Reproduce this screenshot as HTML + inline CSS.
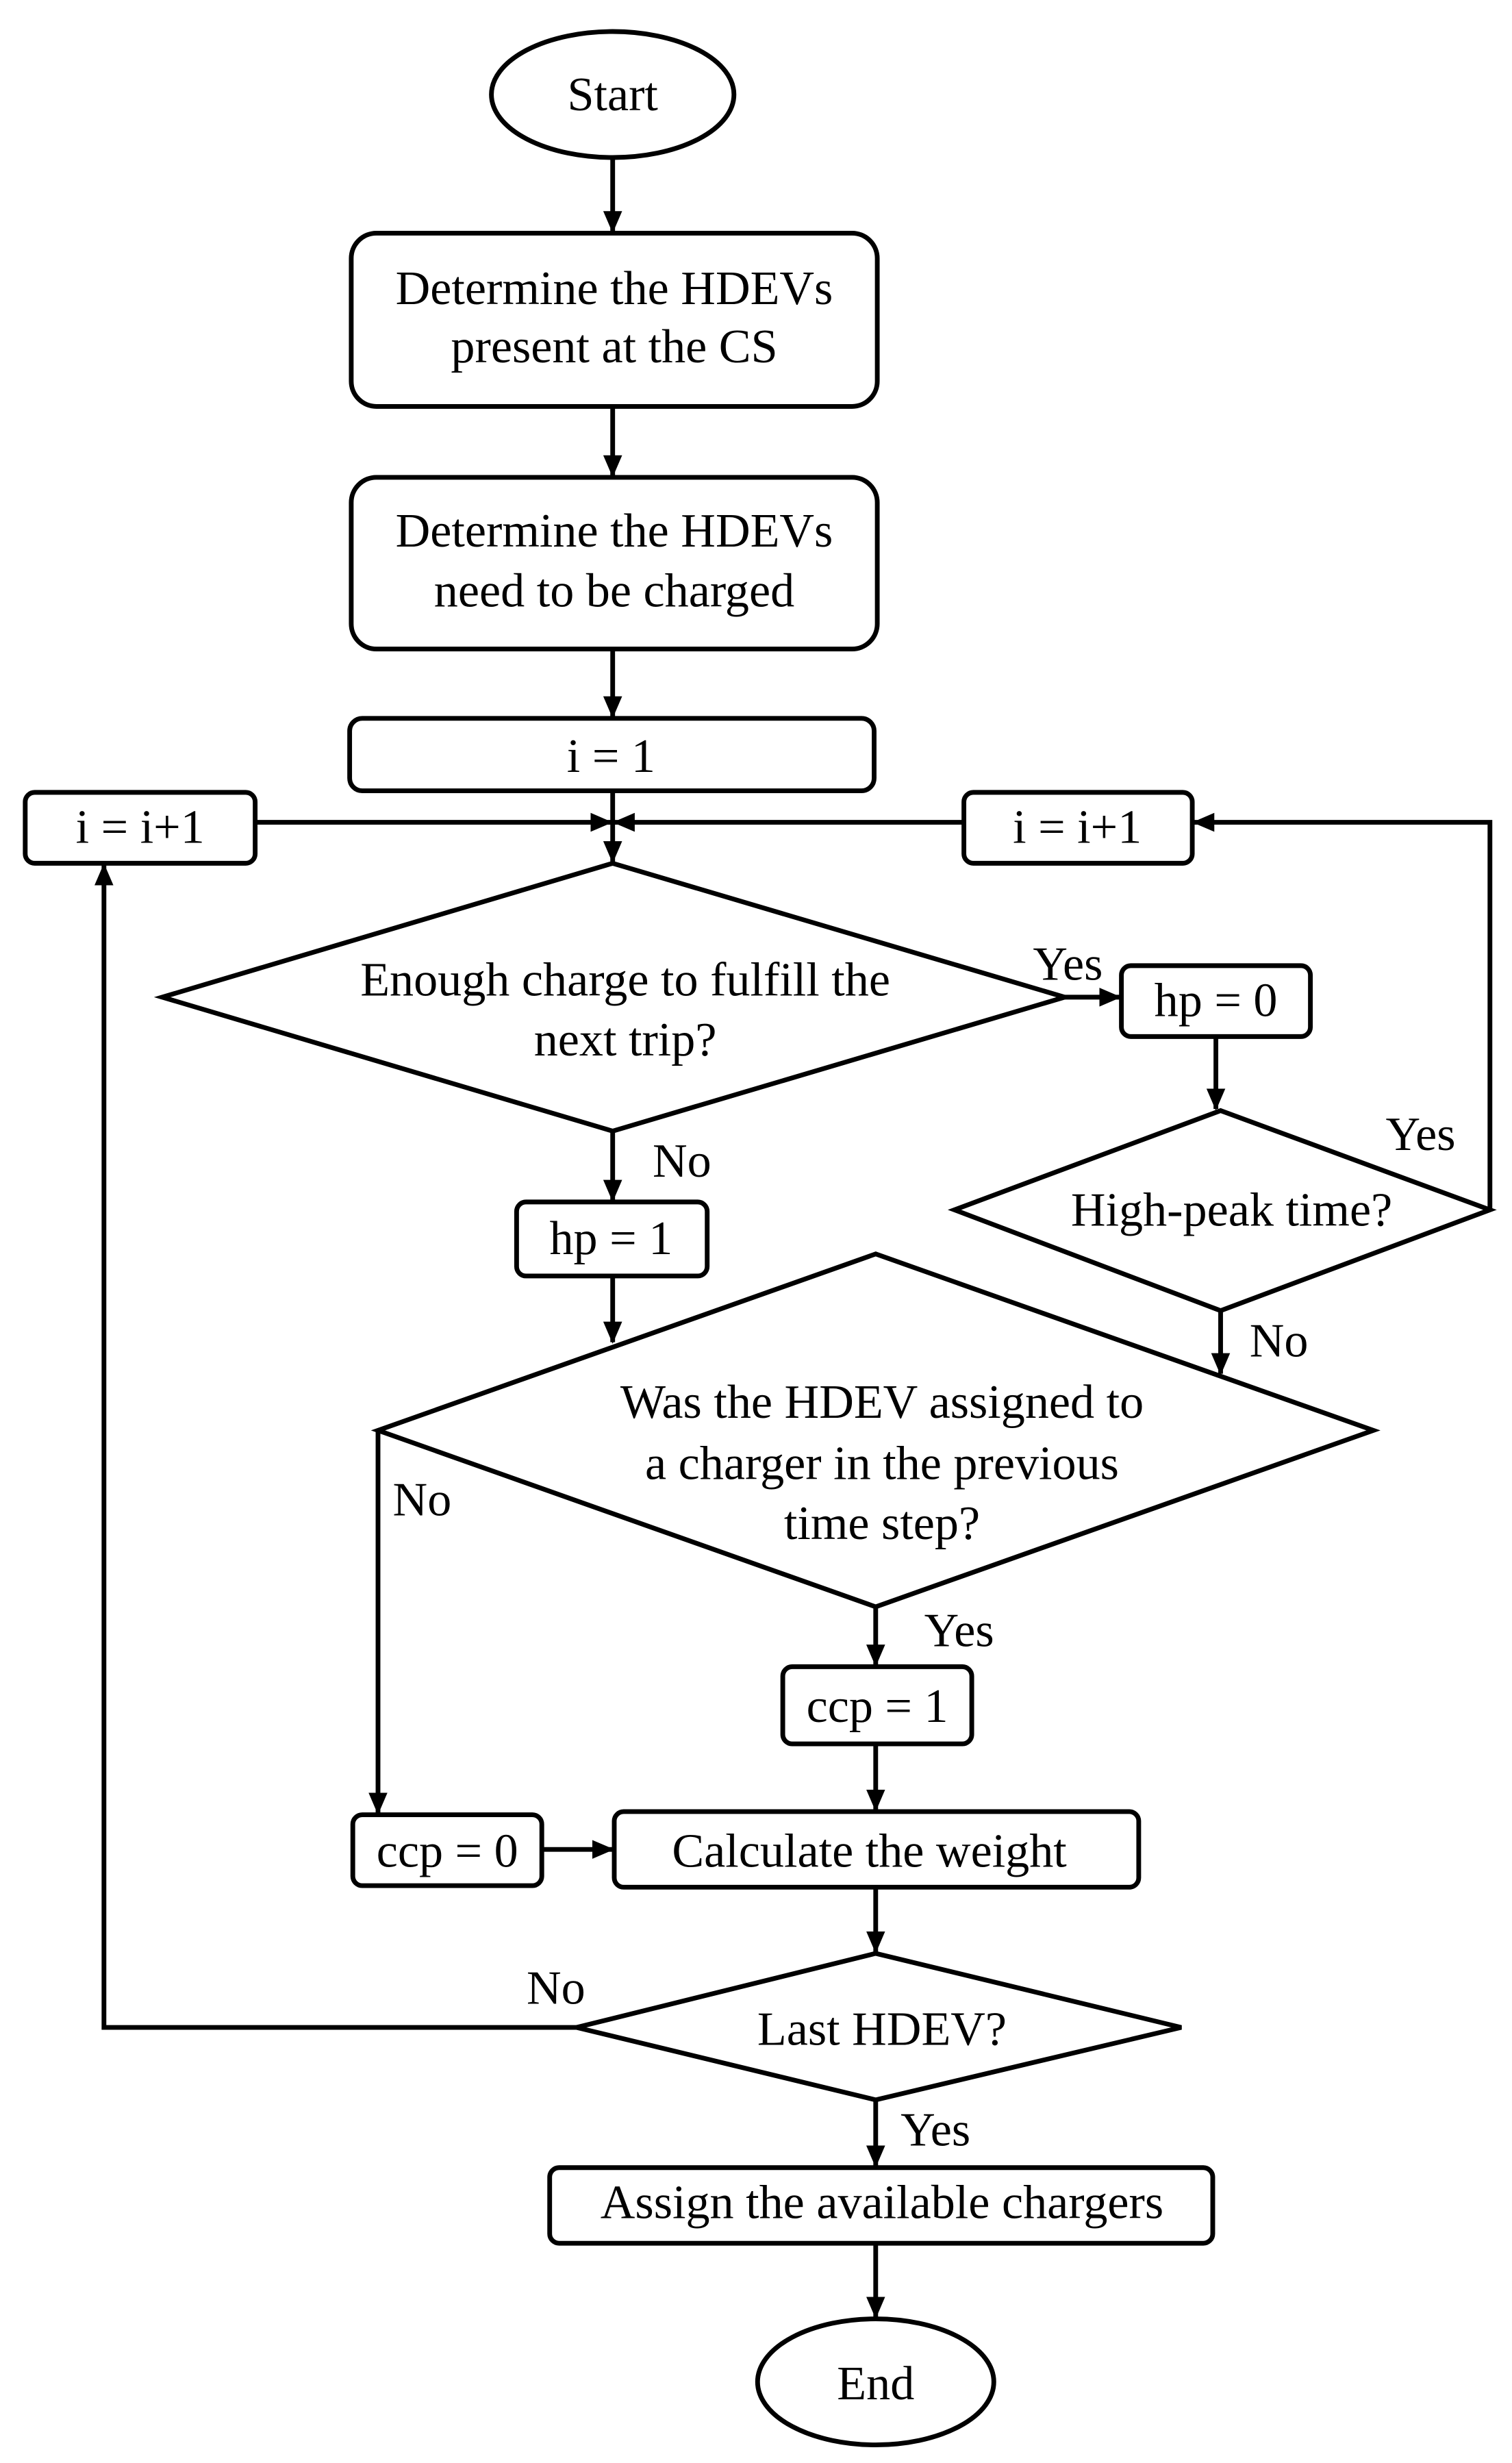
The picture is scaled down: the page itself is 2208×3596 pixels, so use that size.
<!DOCTYPE html>
<html><head><meta charset="utf-8"><style>html,body{margin:0;padding:0;background:#fff}svg{display:block}</style></head>
<body>
<svg width="2208" height="3596" viewBox="0 0 960 1563.5" xmlns="http://www.w3.org/2000/svg">
<defs>
<marker id="b" markerWidth="14" markerHeight="14" refX="13" refY="7" orient="auto" markerUnits="userSpaceOnUse" viewBox="0 0 14 14"><path d="M0,1 L14,7 L0,13 z" fill="#000"/></marker></defs>
<g fill="none" stroke="#000" stroke-width="3">
<ellipse cx="389" cy="60" rx="77" ry="40"/>
<rect x="223" y="148" width="334" height="110" rx="16"/>
<rect x="223" y="303" width="334" height="109" rx="16"/>
<rect x="222" y="456" width="333" height="46" rx="8"/>
<rect x="16" y="503" width="146" height="45" rx="6"/>
<rect x="612" y="503" width="145" height="45" rx="6"/>
<polygon points="389,548 676,633 389,718 103,633"/>
<rect x="712" y="613" width="120" height="45" rx="6"/>
<polygon points="775,705 946,768 775,832 606,768"/>
<rect x="328" y="763" width="121" height="47" rx="6"/>
<polygon points="556,796 872,908 556,1020 240,908"/>
<rect x="497" y="1058" width="120" height="49" rx="6"/>
<rect x="224" y="1152" width="120" height="45" rx="6"/>
<rect x="390" y="1150" width="333" height="48" rx="6"/>
<polygon points="556,1240 750,1287 556,1333 366,1287"/>
<rect x="349" y="1376" width="421" height="48" rx="6"/>
<ellipse cx="556" cy="1512" rx="75" ry="40"/>
</g>
<g fill="none" stroke="#000" stroke-width="3" marker-end="url(#b)">
<line x1="389" y1="100" x2="389" y2="147"/>
<line x1="389" y1="258" x2="389" y2="302"/>
<line x1="389" y1="412" x2="389" y2="455"/>
<line x1="389" y1="502" x2="389" y2="547"/>
<line x1="162" y1="522" x2="388" y2="522"/>
<line x1="612" y1="522" x2="390" y2="522"/>
<line x1="676" y1="633" x2="711" y2="633"/>
<line x1="772" y1="658" x2="772" y2="704"/>
<polyline points="946,768 946,522 758,522"/>
<line x1="775" y1="832" x2="775" y2="872"/>
<line x1="389" y1="718" x2="389" y2="762"/>
<line x1="389" y1="810" x2="389" y2="852"/>
<polyline points="240,908 240,1151"/>
<line x1="556" y1="1020" x2="556" y2="1057"/>
<line x1="556" y1="1107" x2="556" y2="1149"/>
<line x1="344" y1="1174" x2="389" y2="1174"/>
<line x1="556" y1="1198" x2="556" y2="1239"/>
<polyline points="366,1287 66,1287 66,549"/>
<line x1="556" y1="1333" x2="556" y2="1375"/>
<line x1="556" y1="1424" x2="556" y2="1471"/>
</g>
<g font-family="Liberation Serif, serif" font-size="30.5" fill="#000" text-anchor="middle" dominant-baseline="central">
<text x="389" y="60">Start</text>
<text x="390" y="183">Determine the HDEVs</text>
<text x="390" y="220">present at the CS</text>
<text x="390" y="337">Determine the HDEVs</text>
<text x="390" y="375">need to be charged</text>
<text x="388" y="480">i = 1</text>
<text x="89" y="525">i = i+1</text>
<text x="684" y="525">i = i+1</text>
<text x="397" y="622">Enough charge to fulfill the</text>
<text x="397" y="660">next trip?</text>
<text x="678" y="612">Yes</text>
<text x="772" y="635">hp = 0</text>
<text x="782" y="768">High-peak time?</text>
<text x="902" y="720">Yes</text>
<text x="812" y="851">No</text>
<text x="433" y="737">No</text>
<text x="388" y="786">hp = 1</text>
<text x="560" y="890">Was the HDEV assigned to</text>
<text x="560" y="929">a charger in the previous</text>
<text x="560" y="967">time step?</text>
<text x="268" y="952">No</text>
<text x="609" y="1035">Yes</text>
<text x="557" y="1083">ccp = 1</text>
<text x="284" y="1175">ccp = 0</text>
<text x="552" y="1175">Calculate the weight</text>
<text x="560" y="1288">Last HDEV?</text>
<text x="353" y="1262">No</text>
<text x="594" y="1352">Yes</text>
<text x="560" y="1398">Assign the available chargers</text>
<text x="556" y="1513">End</text>
</g>
</svg>
</body></html>
